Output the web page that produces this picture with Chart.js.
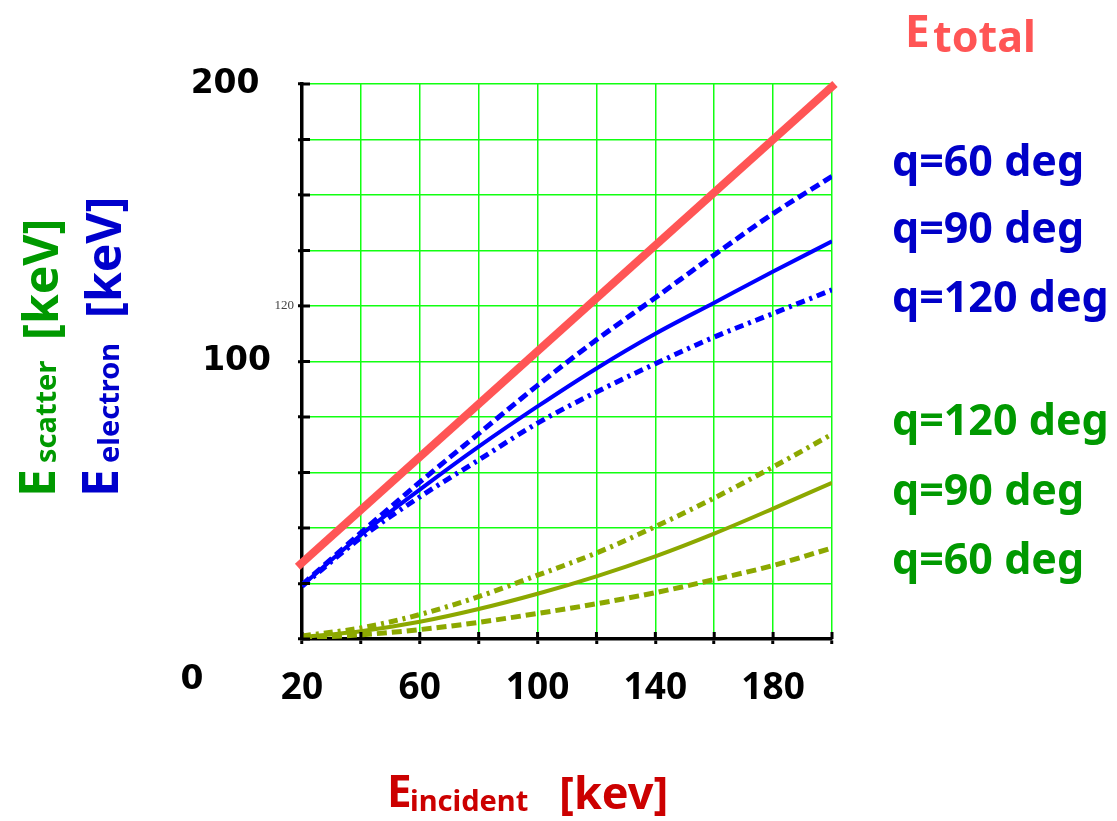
<!DOCTYPE html>
<html>
<head>
<meta charset="utf-8">
<script src="https://cdn.jsdelivr.net/npm/chart.js@4.4.1/dist/chart.umd.min.js"></script>
<style>
    html, body { margin: 0; padding: 0; background: #fff; }
    #wrap { width: 1117px; height: 821px; }
</style>
</head>
<body>
<div id="wrap"><canvas id="comptonChart" width="1117" height="821"></canvas></div>
<script>
// Compton scattering - energies vs incident photon energy (keV)

// x values where the curves were read
const incident = [20, 40, 60, 80, 100, 120, 140, 160, 180, 200];

// upper (blue) curves
const blue60 = [19.5, 38.3, 56.5, 74, 91.4, 107.8, 123, 138.4, 153.3, 166.7];
const blue90 = [19.3, 37.5, 53.8, 69.3, 83.8, 97.5, 110, 121.2, 132.4, 143.3];
const blue120 = [19, 36.5, 51.2, 64.5, 77.8, 89, 99.2, 108.8, 117.3, 125.8];

// lower (green) curves
const green120 = [1.1, 4, 8.8, 15.3, 23, 31, 40.5, 50.8, 62, 73.8];
const green90 = [0.7, 2.8, 6.2, 10.8, 16.3, 22.6, 29.8, 38, 47, 56.3];
const green60 = [0.4, 1.5, 3.4, 6, 9.2, 12.7, 16.7, 21.4, 26.5, 32.8];

// E total, straight line end points
const totalX = [18.5, 201];
const totalY = [26, 200];

// tick labels
const xTickLabels = [20, 60, 100, 140, 180];
const yTickLabels = [200, 120, 100];

const BLUE = '#0000ff';
const OLIVE = '#8ca800';

function pts(xs, ys) {
    return xs.map((x, i) => ({ x: x, y: ys[i] }));
}

function curve(label, ys, color, dash, width) {
    return {
        label: label,
        data: pts(incident, ys),
        borderColor: color,
        borderWidth: width,
        borderDash: dash,
        pointRadius: 0,
        cubicInterpolationMode: 'monotone',
        fill: false
    };
}

// short black ticks inside the plot and the free text around it
const decorations = {
    id: 'decorations',
    afterDatasetsDraw(chart) {
        const ctx = chart.ctx;
        const xs = chart.scales.x, ys = chart.scales.y;
        const area = chart.chartArea;
        ctx.save();
        ctx.strokeStyle = '#000';
        ctx.lineWidth = 3;
        ys.ticks.forEach(t => {
            const py = ys.getPixelForValue(t.value);
            ctx.beginPath();
            ctx.moveTo(area.left, py);
            ctx.lineTo(area.left + 8, py);
            ctx.stroke();
        });
        xs.ticks.forEach(t => {
            const px = xs.getPixelForValue(t.value);
            ctx.beginPath();
            ctx.moveTo(px, area.bottom);
            ctx.lineTo(px, area.bottom - 7);
            ctx.stroke();
        });
        ctx.restore();
    },
    afterDraw(chart) {
        const ctx = chart.ctx;
        ctx.save();
        ctx.textBaseline = 'alphabetic';
        ctx.textAlign = 'left';

        const text = (s, x, y, font, color) => {
            ctx.font = font;
            ctx.fillStyle = color;
            ctx.fillText(s, x, y);
        };

        // lone "0" below the y axis
        ctx.textAlign = 'center';
        ctx.textBaseline = 'middle';
        text('0', 192, 680, 'bold 33px "DejaVu Sans"', '#000');
        ctx.textAlign = 'left';
        ctx.textBaseline = 'alphabetic';

        // E total
        text('E', 905, 47, 'bold 44px "Noto Sans"', '#ff5555');
        text('total', 933, 52, 'bold 43px "Noto Sans"', '#ff5555');

        // angle labels
        const bl = '#0000c8', gr = '#009900';
        const lf = 'bold 43px "Noto Sans"';
        text('q=60 deg', 892, 176, lf, bl);
        text('q=90 deg', 892, 243, lf, bl);
        text('q=120 deg', 892, 312, lf, bl);
        text('q=120 deg', 892, 435, lf, gr);
        text('q=90 deg', 892, 505, lf, gr);
        text('q=60 deg', 892, 574, lf, gr);

        // x axis title
        const red = '#cc0000';
        text('E', 387, 807, 'bold 44px "Noto Sans"', red);
        text('incident', 410, 811, 'bold 29px "Noto Sans"', red);
        text('[kev]', 559, 809, 'bold 45px "Noto Sans"', red);

        // rotated y axis titles
        const vtitle = (baseX, parts, color) => {
            ctx.save();
            ctx.translate(baseX, 0);
            ctx.rotate(-Math.PI / 2);
            parts.forEach(p => {
                ctx.font = p.font;
                ctx.fillStyle = color;
                ctx.fillText(p.s, -p.y, p.dx || 0);
            });
            ctx.restore();
        };
        vtitle(55, [
            { s: 'E', y: 497, font: 'bold 50px "Noto Sans"' },
            { s: 'scatter', y: 463, font: 'bold 29px "Noto Sans"', dx: 1 },
            { s: '[keV]', y: 340, font: 'bold 48px "Noto Sans"', dx: 3 }
        ], '#009900');
        vtitle(118, [
            { s: 'E', y: 497, font: 'bold 50px "Noto Sans"' },
            { s: 'electron', y: 463, font: 'bold 29px "Noto Sans"', dx: 1 },
            { s: '[keV]', y: 318, font: 'bold 48px "Noto Sans"', dx: 3 }
        ], '#0000cc');

        ctx.restore();
    }
};

const ctx1 = document.getElementById('comptonChart').getContext('2d');

new Chart(ctx1, {
    type: 'line',
    data: {
        datasets: [
            curve('q=60 deg', blue60, BLUE, [10, 5], 5),
            curve('q=90 deg', blue90, BLUE, [], 4),
            curve('q=120 deg', blue120, BLUE, [9, 5, 3, 5], 5),
            curve('q=120 deg', green120, OLIVE, [9, 5, 3, 5], 5),
            curve('q=90 deg', green90, OLIVE, [], 4),
            curve('q=60 deg', green60, OLIVE, [10, 5], 5),
            {
                label: 'Etotal',
                data: pts(totalX, totalY),
                borderColor: '#ff5555',
                borderWidth: 8,
                pointRadius: 0,
                borderCapStyle: 'butt',
                clip: false
            }
        ]
    },
    options: {
        responsive: false,
        animation: false,
        layout: {
            padding: { left: 0, top: 84, right: 285, bottom: 0 }
        },
        plugins: {
            legend: { display: false },
            tooltip: { enabled: false }
        },
        scales: {
            x: {
                type: 'linear',
                min: 20,
                max: 200,
                afterFit: function(scale) { scale.height = 182; },
                border: { display: true, color: '#000', width: 3.5 },
                grid: {
                    color: '#11ff11',
                    lineWidth: 1.5,
                    tickColor: '#000',
                    tickLength: 5,
                    tickWidth: 3
                },
                ticks: {
                    stepSize: 20,
                    autoSkip: false,
                    maxRotation: 0,
                    padding: 22,
                    color: '#000',
                    font: { family: 'Noto Sans', size: 37, weight: 'bold' },
                    callback: function(value) {
                        return xTickLabels.includes(value) ? String(value) : '';
                    }
                }
            },
            y: {
                min: 0,
                max: 200,
                afterFit: function(scale) { scale.width = 302; },
                border: { display: true, color: '#000', width: 3.5 },
                grid: {
                    color: '#11ff11',
                    lineWidth: 1.5,
                    tickColor: '#000',
                    tickLength: 4,
                    tickWidth: 3
                },
                ticks: {
                    stepSize: 20,
                    autoSkip: false,
                    padding: 4,
                    color: function(c) { return c.tick && c.tick.value === 120 ? '#444' : '#000'; },
                    font: function(c) {
                        if (c.tick && c.tick.value === 120) {
                            return { family: 'Liberation Serif', size: 13, weight: 'normal' };
                        }
                        return { family: 'DejaVu Sans', size: 33, weight: 'bold' };
                    },
                    callback: function(value) {
                        if (!yTickLabels.includes(value)) return '';
                        // the big labels sit further left than the small one
                        if (value === 200) return value + '   ';
                        if (value === 100) return value + '  ';
                        return String(value);
                    }
                }
            }
        }
    },
    plugins: [decorations]
});
</script>
</body>
</html>
